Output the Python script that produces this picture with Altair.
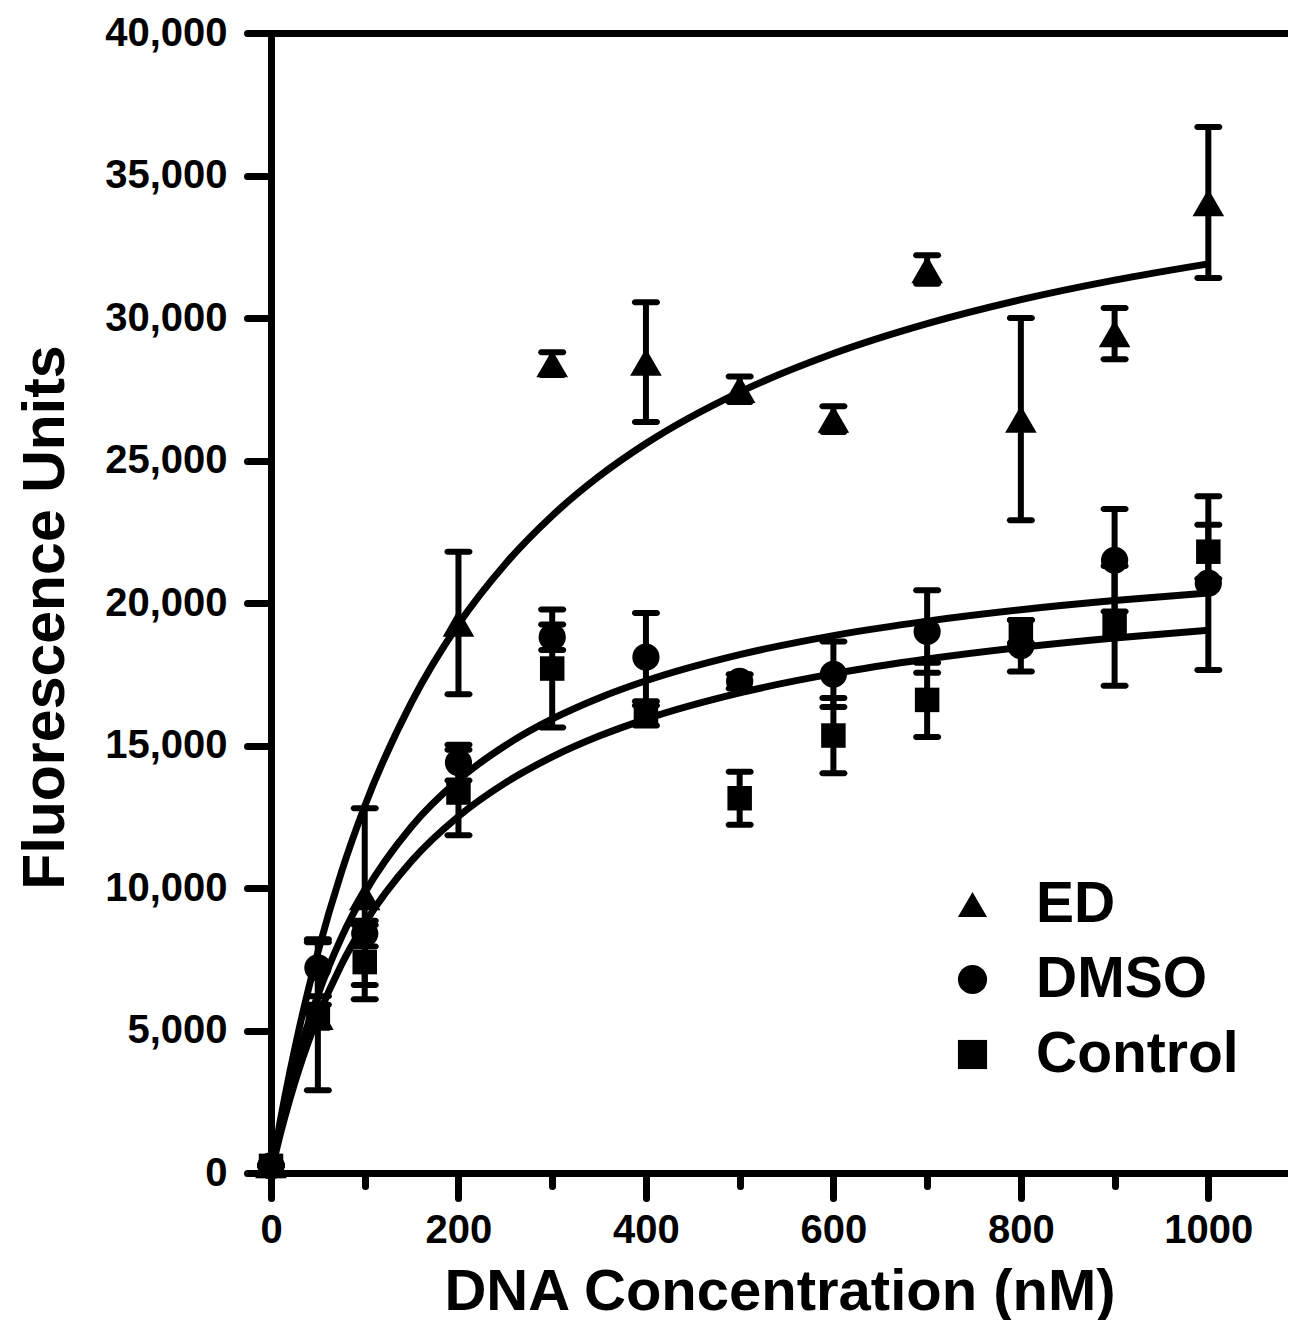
import altair as alt
import pandas as pd

FONT = "Liberation Sans"

groups = ["ED", "DMSO", "Control"]
shapes = ["triangle-up", "circle", "square"]

conc = [0, 50, 100, 200, 300, 400, 500, 600, 700, 800, 900, 1000]

ed_mean = [300, 5500, 9700, 19300, 28400, 28450, 27500, 26450, 31700, 26450, 29450, 34050]
ed_err = [0, 2600, 3100, 2500, 400, 2100, 450, 450, 500, 3550, 900, 2650]

dmso_mean = [250, 7200, 8400, 14400, 18800, 18100, 17250, 17500, 19000, 18500, 21500, 20700]
dmso_err = [0, 1000, 450, 630, 450, 1550, 250, 1150, 1450, 900, 1800, 3050]

control_mean = [250, 5500, 7400, 13350, 17700, 16050, 13150, 15350, 16600, 19000, 19200, 21800]
control_err = [0, 400, 1300, 1500, 2070, 350, 930, 1320, 1300, 400, 2100, 950]

# fitted saturation curves
curve_x = [0, 10, 20, 30, 40, 50, 75, 100, 150, 200, 250, 300, 350, 400,
           500, 600, 700, 800, 900, 1000]
ed_fit = [0, 1848, 3526, 5056, 6456, 7742, 10544, 12873, 16524, 19254, 21371,
          23063, 24445, 25596, 27401, 28753, 29803, 30644, 31330, 31901]
dmso_fit = [0, 1593, 2981, 4200, 5280, 6243, 8250, 9830, 12158, 13791, 15000,
            15931, 16670, 17271, 18189, 18857, 19365, 19765, 20087, 20352]
control_fit = [0, 1369, 2576, 3650, 4611, 5475, 7300, 8760, 10950, 12514, 13688,
               14600, 15330, 15927, 16846, 17520, 18035, 18442, 18771, 19043]

x_major = [0, 200, 400, 600, 800, 1000]
x_minor = [100, 300, 500, 700, 900]
y_ticks = [0, 5000, 10000, 15000, 20000, 25000, 30000, 35000, 40000]

# ---- tables ----
rows = []
for g, m, e in zip(groups, [ed_mean, dmso_mean, control_mean], [ed_err, dmso_err, control_err]):
    for c, v, s in zip(conc, m, e):
        rows.append({"group": g, "conc": c, "value": v, "lo": v - s, "hi": v + s})
pts = pd.DataFrame(rows)

crow = []
for g, f in zip(groups, [ed_fit, dmso_fit, control_fit]):
    for c, v in zip(curve_x, f):
        crow.append({"group": g, "conc": c, "value": v})
curves_df = pd.DataFrame(crow)

xs = alt.Scale(domain=[0, 1085], nice=False, zero=False)
ys = alt.Scale(domain=[0, 40000], nice=False)

y_axis = alt.Axis(
    values=y_ticks, labelExpr="format(datum.value, ',')", grid=False,
    labelFlush=False, labelOverlap=False,
    labelFont=FONT, labelFontSize=40, labelFontWeight="bold", labelColor="black",
    labelPadding=20, tickSize=24, tickWidth=7, tickColor="black", tickCap="round",
    domainWidth=7, domainColor="black",
    title="Fluorescence Units", titleFont=FONT, titleFontSize=59,
    titleFontWeight="bold", titleColor="black", titlePadding=29, titleY=584,
)

x_main_axis = alt.Axis(
    orient="bottom", values=x_major, labelExpr="format(datum.value, 'd')", grid=False,
    labelFlush=False, labelOverlap=False,
    labelFont=FONT, labelFontSize=40, labelFontWeight="bold", labelColor="black",
    labelPadding=12, tickSize=25, tickWidth=7, tickColor="black", tickCap="round",
    domainWidth=7, domainColor="black",
    title="DNA Concentration (nM)", titleFont=FONT, titleFontSize=58,
    titleFontWeight="bold", titleColor="black", titlePadding=13,
)

x_minor_axis = alt.Axis(
    orient="bottom", values=x_minor, labels=False, domain=False, grid=False,
    tickSize=13, tickWidth=7, tickColor="black", tickCap="round", title=None,
)

x_top_axis = alt.Axis(
    orient="top", labels=False, ticks=False, domain=True, grid=False,
    domainWidth=7, domainColor="black", title=None,
)

curves = alt.Chart(curves_df).mark_line(
    color="black", strokeWidth=7, interpolate="monotone"
).encode(
    x=alt.X("conc:Q", scale=xs, axis=x_main_axis),
    y=alt.Y("value:Q", scale=ys, axis=y_axis),
    detail="group:N",
)

bars = alt.Chart(pts).mark_rule(color="black", strokeWidth=6, opacity=1).encode(
    x=alt.X("conc:Q", scale=xs, axis=x_minor_axis),
    y=alt.Y("lo:Q", scale=ys, axis=y_axis),
    y2="hi:Q",
)

caps_hi = alt.Chart(pts).mark_tick(
    orient="horizontal", color="black", opacity=1, size=28, thickness=6, cornerRadius=3
).encode(
    x=alt.X("conc:Q", scale=xs, axis=x_top_axis),
    y=alt.Y("hi:Q", scale=ys, axis=y_axis),
)

caps_lo = alt.Chart(pts).mark_tick(
    orient="horizontal", color="black", opacity=1, size=28, thickness=6, cornerRadius=3
).encode(
    x=alt.X("conc:Q", scale=xs, axis=None),
    y=alt.Y("lo:Q", scale=ys, axis=y_axis),
)

points = alt.Chart(pts).mark_point(
    filled=True, color="black", opacity=1, strokeWidth=0
).encode(
    x=alt.X("conc:Q", scale=xs, axis=None),
    y=alt.Y("value:Q", scale=ys, axis=y_axis),
    shape=alt.Shape(
        "group:N",
        scale=alt.Scale(domain=groups, range=shapes),
        legend=alt.Legend(
            title=None, orient="none", legendX=673, legendY=843,
            labelFont=FONT, labelFontSize=57, labelFontWeight="bold",
            labelColor="black", labelLimit=0, symbolSize=850, symbolFillColor="black",
            symbolStrokeColor="black", symbolStrokeWidth=0, symbolOpacity=1,
            labelOffset=35, rowPadding=17, padding=0,
        ),
    ),
    size={
        "condition": [
            {"test": "datum.group === 'ED'", "value": 1000},
            {"test": "datum.group === 'Control'", "value": 600},
        ],
        "value": 740,
    },
)

chart = alt.layer(curves, bars, caps_hi, caps_lo, points).resolve_axis(
    x="independent"
).properties(
    width=1017, height=1140,
    autosize=alt.AutoSizeParams(type="none"),
    padding={"left": 263, "top": 25, "right": 0, "bottom": 147},
).configure_view(stroke=None).configure(background="white")

chart.save("out.html", embed_options={"renderer": "svg", "actions": False})
